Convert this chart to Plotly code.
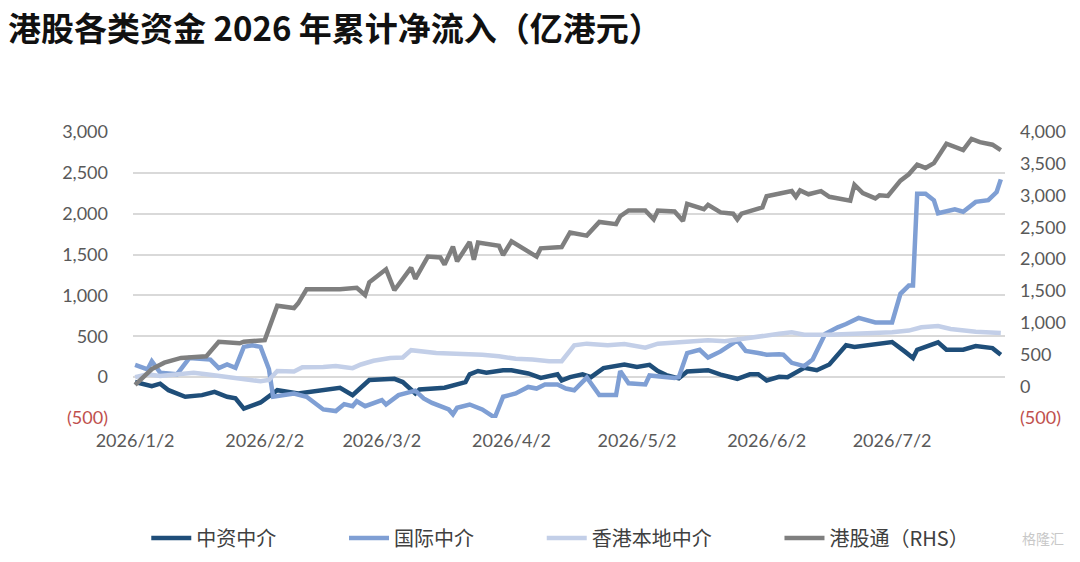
import plotly.graph_objects as go

# 中资中介 (left axis)
cn_dates = ["2026-01-02", "2026-01-03", "2026-01-06", "2026-01-08", "2026-01-10", "2026-01-14",
            "2026-01-18", "2026-01-21", "2026-01-24", "2026-01-26", "2026-01-28", "2026-02-01",
            "2026-02-03", "2026-02-05", "2026-02-10", "2026-02-13", "2026-02-17", "2026-02-20",
            "2026-02-23", "2026-02-26", "2026-02-27", "2026-03-05", "2026-03-07", "2026-03-10",
            "2026-03-11", "2026-03-17", "2026-03-19", "2026-03-22", "2026-03-23", "2026-03-25",
            "2026-03-27", "2026-03-31", "2026-04-02", "2026-04-06", "2026-04-09", "2026-04-13",
            "2026-04-14", "2026-04-16", "2026-04-19", "2026-04-21", "2026-04-24", "2026-04-26",
            "2026-04-29", "2026-05-02", "2026-05-05", "2026-05-07", "2026-05-09", "2026-05-12",
            "2026-05-14", "2026-05-19", "2026-05-22", "2026-05-26", "2026-05-29", "2026-05-31",
            "2026-06-02", "2026-06-05", "2026-06-07", "2026-06-11", "2026-06-14", "2026-06-17",
            "2026-06-21", "2026-06-23", "2026-06-28", "2026-07-02", "2026-07-05", "2026-07-07",
            "2026-07-08", "2026-07-13", "2026-07-15", "2026-07-19", "2026-07-22", "2026-07-26",
            "2026-07-28"]
cn_vals = [-60, -75, -110, -80, -160, -240,
           -220, -180, -240, -260, -385, -310,
           -240, -160, -200, -180, -140, -130,
           -220, -80, -35, -20, -60, -200,
           -150, -130, -100, -60, 35, 75,
           55, 85, 85, 45, -10, 35,
           -40, 0, 35, 0, 110, 125,
           155, 125, 150, 75, 25, -15,
           70, 85, 30, -20, 35, 35,
           -40, 5, 0, 115, 85, 155,
           390, 370, 410, 430, 315, 235,
           335, 425, 335, 335, 380, 355,
           275]

# 国际中介 (left axis)
intl_dates = ["2026-01-02", "2026-01-05", "2026-01-06", "2026-01-08", "2026-01-12", "2026-01-14",
              "2026-01-15", "2026-01-20", "2026-01-22", "2026-01-24", "2026-01-26", "2026-01-28",
              "2026-01-30", "2026-02-01", "2026-02-03", "2026-02-04", "2026-02-09", "2026-02-12",
              "2026-02-16", "2026-02-19", "2026-02-21", "2026-02-23", "2026-02-24", "2026-02-26",
              "2026-03-02", "2026-03-03", "2026-03-06", "2026-03-10", "2026-03-12", "2026-03-14",
              "2026-03-18", "2026-03-19", "2026-03-20", "2026-03-23", "2026-03-26", "2026-03-29",
              "2026-03-31", "2026-04-03", "2026-04-06", "2026-04-08", "2026-04-10", "2026-04-13",
              "2026-04-15", "2026-04-17", "2026-04-20", "2026-04-23", "2026-04-27", "2026-04-28",
              "2026-04-30", "2026-05-04", "2026-05-05", "2026-05-11", "2026-05-12", "2026-05-14",
              "2026-05-17", "2026-05-19", "2026-05-22", "2026-05-26", "2026-05-28", "2026-05-31",
              "2026-06-02", "2026-06-05", "2026-06-06", "2026-06-08", "2026-06-11", "2026-06-13",
              "2026-06-16", "2026-06-19", "2026-06-21", "2026-06-24", "2026-06-28", "2026-07-02",
              "2026-07-04", "2026-07-06", "2026-07-07", "2026-07-08", "2026-07-10", "2026-07-12",
              "2026-07-13", "2026-07-17", "2026-07-19", "2026-07-22", "2026-07-25", "2026-07-27",
              "2026-07-28"]
intl_vals = [150, 95, 195, 55, 35, 175,
             235, 215, 110, 155, 115, 370,
             390, 370, 100, -240, -200, -240,
             -395, -415, -330, -355, -295, -355,
             -280, -335, -220, -165, -260, -315,
             -395, -455, -375, -335, -395, -495,
             -240, -200, -120, -140, -90, -90,
             -140, -160, -5, -220, -220, 75,
             -75, -90, 20, -10, 0, 295,
             335, 240, 315, 450, 320, 295,
             275, 280, 275, 175, 135, 215,
             530, 610, 650, 725, 670, 670,
             1020, 1120, 1120, 2245, 2245, 2165,
             2005, 2055, 2025, 2145, 2165, 2265,
             2420]

# 香港本地中介 (left axis)
hk_dates = ["2026-01-02", "2026-01-05", "2026-01-08", "2026-01-12", "2026-01-16", "2026-01-19",
            "2026-01-24", "2026-01-28", "2026-02-01", "2026-02-03", "2026-02-05", "2026-02-09",
            "2026-02-11", "2026-02-16", "2026-02-19", "2026-02-23", "2026-02-25", "2026-02-28",
            "2026-03-04", "2026-03-07", "2026-03-09", "2026-03-15", "2026-03-20", "2026-03-26",
            "2026-03-30", "2026-04-03", "2026-04-07", "2026-04-11", "2026-04-14", "2026-04-17",
            "2026-04-20", "2026-04-25", "2026-04-29", "2026-05-04", "2026-05-07", "2026-05-13",
            "2026-05-19", "2026-05-23", "2026-05-28", "2026-06-01", "2026-06-05", "2026-06-08",
            "2026-06-11", "2026-06-17", "2026-06-25", "2026-07-02", "2026-07-06", "2026-07-09",
            "2026-07-13", "2026-07-16", "2026-07-22", "2026-07-28"]
hk_vals = [0, 35, 15, 35, 55, 35,
           0, -30, -50, -35, 75, 70,
           120, 125, 135, 110, 155, 200,
           235, 240, 330, 295, 290, 275,
           255, 225, 215, 195, 195, 390,
           410, 390, 405, 360, 410, 430,
           450, 440, 470, 500, 530, 550,
           518, 520, 530, 550, 570, 610,
           625, 590, 555, 540]

# 港股通 (right axis)
sc_dates = ["2026-01-02", "2026-01-06", "2026-01-09", "2026-01-13", "2026-01-19", "2026-01-22",
            "2026-01-27", "2026-01-28", "2026-02-02", "2026-02-05", "2026-02-09", "2026-02-10",
            "2026-02-12", "2026-02-20", "2026-02-24", "2026-02-26", "2026-02-27", "2026-03-03",
            "2026-03-05", "2026-03-09", "2026-03-10", "2026-03-13", "2026-03-16", "2026-03-17",
            "2026-03-19", "2026-03-20", "2026-03-23", "2026-03-24", "2026-03-25", "2026-03-30",
            "2026-03-31", "2026-04-02", "2026-04-08", "2026-04-09", "2026-04-14", "2026-04-16",
            "2026-04-20", "2026-04-23", "2026-04-27", "2026-04-28", "2026-04-30", "2026-05-04",
            "2026-05-06", "2026-05-07", "2026-05-11", "2026-05-13", "2026-05-14", "2026-05-18",
            "2026-05-19", "2026-05-22", "2026-05-25", "2026-05-26", "2026-05-27", "2026-06-01",
            "2026-06-02", "2026-06-05", "2026-06-08", "2026-06-09", "2026-06-10", "2026-06-12",
            "2026-06-15", "2026-06-17", "2026-06-22", "2026-06-23", "2026-06-25", "2026-06-28",
            "2026-06-29", "2026-07-01", "2026-07-04", "2026-07-06", "2026-07-08", "2026-07-10",
            "2026-07-12", "2026-07-15", "2026-07-19", "2026-07-21", "2026-07-23", "2026-07-26",
            "2026-07-28"]
sc_vals = [20, 270, 370, 445, 470, 700,
           675, 700, 725, 1265, 1230, 1305,
           1525, 1525, 1550, 1435, 1635, 1840,
           1510, 1865, 1690, 2040, 2025, 1915,
           2195, 1965, 2270, 1990, 2260, 2210,
           2065, 2280, 2040, 2170, 2190, 2420,
           2370, 2585, 2550, 2675, 2765, 2765,
           2625, 2765, 2750, 2600, 2870, 2785,
           2855, 2735, 2715, 2625, 2715, 2815,
           2990, 3030, 3070, 2980, 3080, 3020,
           3070, 2980, 2920, 3170, 3040, 2955,
           3005, 2995, 3235, 3335, 3485, 3435,
           3510, 3815, 3715, 3890, 3840, 3800,
           3715]

x_tick_dates = ["2026-01-02", "2026-02-02", "2026-03-02", "2026-04-02",
                "2026-05-02", "2026-06-02", "2026-07-02"]
x_tick_text = ["2026/1/2", "2026/2/2", "2026/3/2", "2026/4/2",
               "2026/5/2", "2026/6/2", "2026/7/2"]
left_ticks = [-500, 0, 500, 1000, 1500, 2000, 2500, 3000]
right_ticks = [-500, 0, 500, 1000, 1500, 2000, 2500, 3000, 3500, 4000]

RED = "#C0504D"
PAD = "\u00a0" * 14  # gap between legend entries


def tick_label(v):
    if v < 0:
        return f"<span style='color:{RED}'>({abs(v):,})</span>"
    return f"{v:,}"


fig = go.Figure()
fig.add_trace(go.Scatter(x=cn_dates, y=cn_vals, name="中资中介" + PAD, mode="lines",
                         line=dict(color="#1F4E79", width=4.5)))
fig.add_trace(go.Scatter(x=intl_dates, y=intl_vals, name="国际中介" + PAD, mode="lines",
                         line=dict(color="#7F9FD4", width=4.5)))
fig.add_trace(go.Scatter(x=hk_dates, y=hk_vals, name="香港本地中介" + PAD, mode="lines",
                         line=dict(color="#C3CFE8", width=4.5)))
fig.add_trace(go.Scatter(x=sc_dates, y=sc_vals, name="港股通（RHS）", mode="lines",
                         line=dict(color="#7F7F7F", width=4.5), yaxis="y2"))

tick_font = dict(family="Lato, Open Sans, sans-serif", size=18, color="#595959")

fig.update_layout(
    width=1080, height=562,
    margin=dict(l=125, r=83, t=124, b=143),
    paper_bgcolor="white", plot_bgcolor="white",
    title=dict(text="<b>港股各类资金 2026 年累计净流入（亿港元）</b>",
               x=0.0, xanchor="left", y=0.962, yanchor="middle",
               font=dict(family="Noto Sans CJK SC", size=33, color="#111111")),
    xaxis=dict(type="date", range=["2026-01-01 12:00", "2026-07-29"],
               tickvals=x_tick_dates, ticktext=x_tick_text, showgrid=False,
               showline=False, zeroline=False, ticks="", tickfont=tick_font,
               ticklabelstandoff=10),
    yaxis=dict(range=[-500, 3000], tickvals=left_ticks,
               ticktext=[tick_label(v) for v in left_ticks],
               showgrid=True, gridcolor="#D9D9D9", gridwidth=1.5, zeroline=False,
               ticks="", tickfont=tick_font, ticklabelstandoff=24),
    yaxis2=dict(range=[-500, 4000], tickvals=right_ticks,
                ticktext=[tick_label(v) for v in right_ticks],
                overlaying="y", side="right", showgrid=False, zeroline=False,
                ticks="", tickfont=tick_font, ticklabelstandoff=14),
    legend=dict(orientation="h", x=0.49, xanchor="center", y=-0.42, yanchor="middle",
                font=dict(family="Noto Sans CJK SC", size=20, color="#404040"),
                itemwidth=40, traceorder="normal"),
    showlegend=True,
)

fig.add_annotation(text="格隆汇", xref="paper", yref="paper", x=1.07, y=-0.42,
                   xanchor="right", yanchor="middle", showarrow=False,
                   font=dict(family="Noto Sans CJK SC", size=14, color="#C8C8C8"))

fig.write_html("out.html")
